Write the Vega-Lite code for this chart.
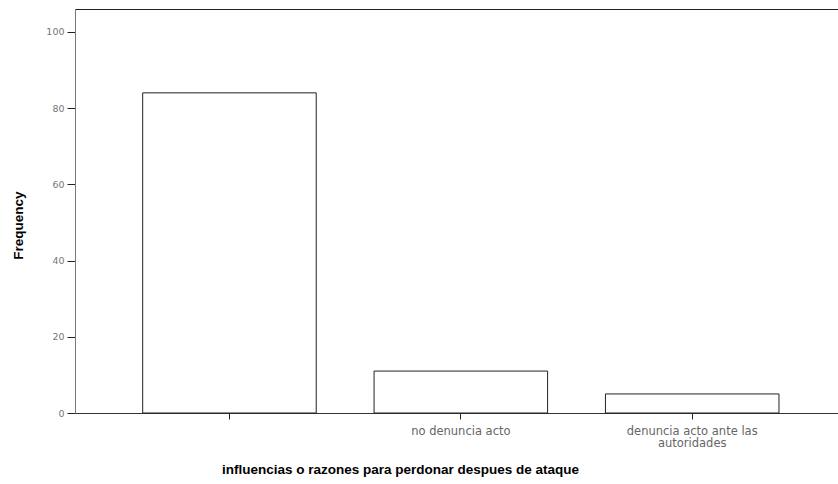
{
  "$schema": "https://vega.github.io/schema/vega-lite/v6.json",
  "autosize": "none",
  "width": 764,
  "height": 404,
  "padding": {"left": 75, "top": 9, "right": 0, "bottom": 71},
  "background": "white",
  "config": {
    "view": {"stroke": "#222", "strokeWidth": 1},
    "font": "Liberation Sans"
  },
  "data": {
    "values": [
      {"razon": " ", "frecuencia": 84},
      {"razon": "no denuncia acto", "frecuencia": 11},
      {"razon": "denuncia acto ante las autoridades", "frecuencia": 5}
    ]
  },
  "mark": {"type": "bar", "fill": "white", "stroke": "#222", "strokeWidth": 1},
  "encoding": {
    "x": {
      "field": "razon",
      "type": "nominal",
      "sort": null,
      "scale": {"paddingInner": 0.25, "paddingOuter": 0.276, "align": 0.53},
      "axis": {
        "title": "influencias o razones para perdonar despues de ataque",
        "titleFont": "Liberation Sans",
        "titleFontSize": 13.5,
        "titleFontWeight": "bold",
        "titleColor": "#000",
        "titleX": 325,
        "titleY": 56,
        "titleAnchor": null,
        "titleAlign": "center",
        "titleBaseline": "middle",
        "labelAngle": 0,
        "labelFont": "DejaVu Sans",
        "labelFontSize": 11.5,
        "labelColor": "#666",
        "labelPadding": 6,
        "labelLineHeight": 12.5,
        "labelExpr": "datum.value == 'denuncia acto ante las autoridades' ? ['denuncia acto ante las', 'autoridades'] : datum.label",
        "domainColor": "#333",
        "tickColor": "#222",
        "tickSize": 6
      }
    },
    "y": {
      "field": "frecuencia",
      "type": "quantitative",
      "scale": {"domain": [0, 106], "nice": false},
      "axis": {
        "title": "Frequency",
        "titleFont": "Liberation Sans",
        "titleFontSize": 13.5,
        "titleFontWeight": "bold",
        "titleColor": "#000",
        "titlePadding": 20,
        "titleY": 216,
        "titleAnchor": null,
        "titleAlign": "center",
        "values": [0, 20, 40, 60, 80, 100],
        "grid": false,
        "labelFont": "DejaVu Sans",
        "labelFontSize": 9.5,
        "labelColor": "#777",
        "labelPadding": 3,
        "domainColor": "#777",
        "tickColor": "#222",
        "tickSize": 8
      }
    }
  }
}
